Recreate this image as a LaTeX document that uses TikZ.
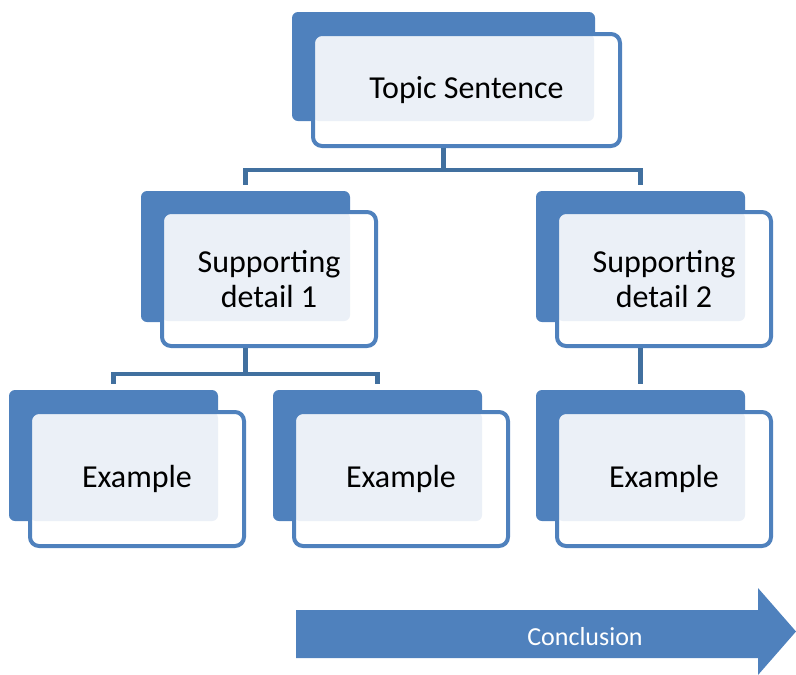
\documentclass[tikz,border=0pt]{standalone}
\usepackage{fontspec}
\setmainfont{Carlito}
\usetikzlibrary{calc}

\definecolor{cardblue}{HTML}{4F81BD}
\definecolor{cardtint}{HTML}{EBF0F7}
\definecolor{linkblue}{HTML}{41709F}

\tikzset{
  cardback/.style={fill=cardblue, rounded corners=6pt, inner sep=0pt,
    minimum width=209pt, minimum height=131pt},
  card/.style={draw=cardblue, fill=white, line width=4pt, rounded corners=9pt,
    inner sep=0pt, minimum width=214pt, minimum height=134pt,
    align=center, font=\fontsize{32}{35}\selectfont,
    path picture={\fill[cardtint, rounded corners=6pt]
      (path picture bounding box.north west) rectangle
      ($(path picture bounding box.south east)+(-26,-25)$);}},
  link/.style={draw=linkblue, line width=4.5pt},
  down/.style={link, shorten >=6pt},
}

\begin{document}
\begin{tikzpicture}[x=1pt, y=-1pt]
  \useasboundingbox (0,0) rectangle (796,675);

  % Define nodes
  \node[cardback, minimum width=303pt, minimum height=109pt] (topicb) at (443.5,66.5) {};
  \node[card, minimum width=307pt, minimum height=112pt] (topic) at (466.5,90) {Topic Sentence};

  \node[cardback] (det1b) at (245.5,256.5) {};
  \node[card] (det1) at (269,279) {Supporting\\detail 1};
  \node[cardback] (det2b) at (640.5,256.5) {};
  \node[card] (det2) at (664,279) {Supporting\\detail 2};

  \node[cardback] (ex1b) at (113.5,455.5) {};
  \node[card] (ex1) at (137,479) {Example};
  \node[cardback] (ex2b) at (377.5,455.5) {};
  \node[card] (ex2) at (401,479) {Example};
  \node[cardback] (ex3b) at (640.5,455.5) {};
  \node[card] (ex3) at (664,479) {Example};

  % Connect the nodes
  \draw[down] (topicb.south |- topic.south) -- ++(0,22) -| (det1b.north);
  \draw[down] (topicb.south |- topic.south) ++(0,22) -| (det2b.north);
  \draw[down] (det1b.south |- det1.south) -- ++(0,26) -| (ex1b.north);
  \draw[down] (det1b.south |- det1.south) ++(0,26) -| (ex2b.north);
  \draw[down] (det2b.south |- det2.south) -- (ex3b.north);

  % Conclusion arrow
  \fill[cardblue] (296,610) -- (758,610) -- (758,588) -- (796,631.5)
    -- (758,675) -- (758,658) -- (296,658) -- cycle;
  \node[text=white, font=\fontsize{26}{30}\selectfont] (concl) at (585,637) {Conclusion};

\end{tikzpicture}
\end{document}
